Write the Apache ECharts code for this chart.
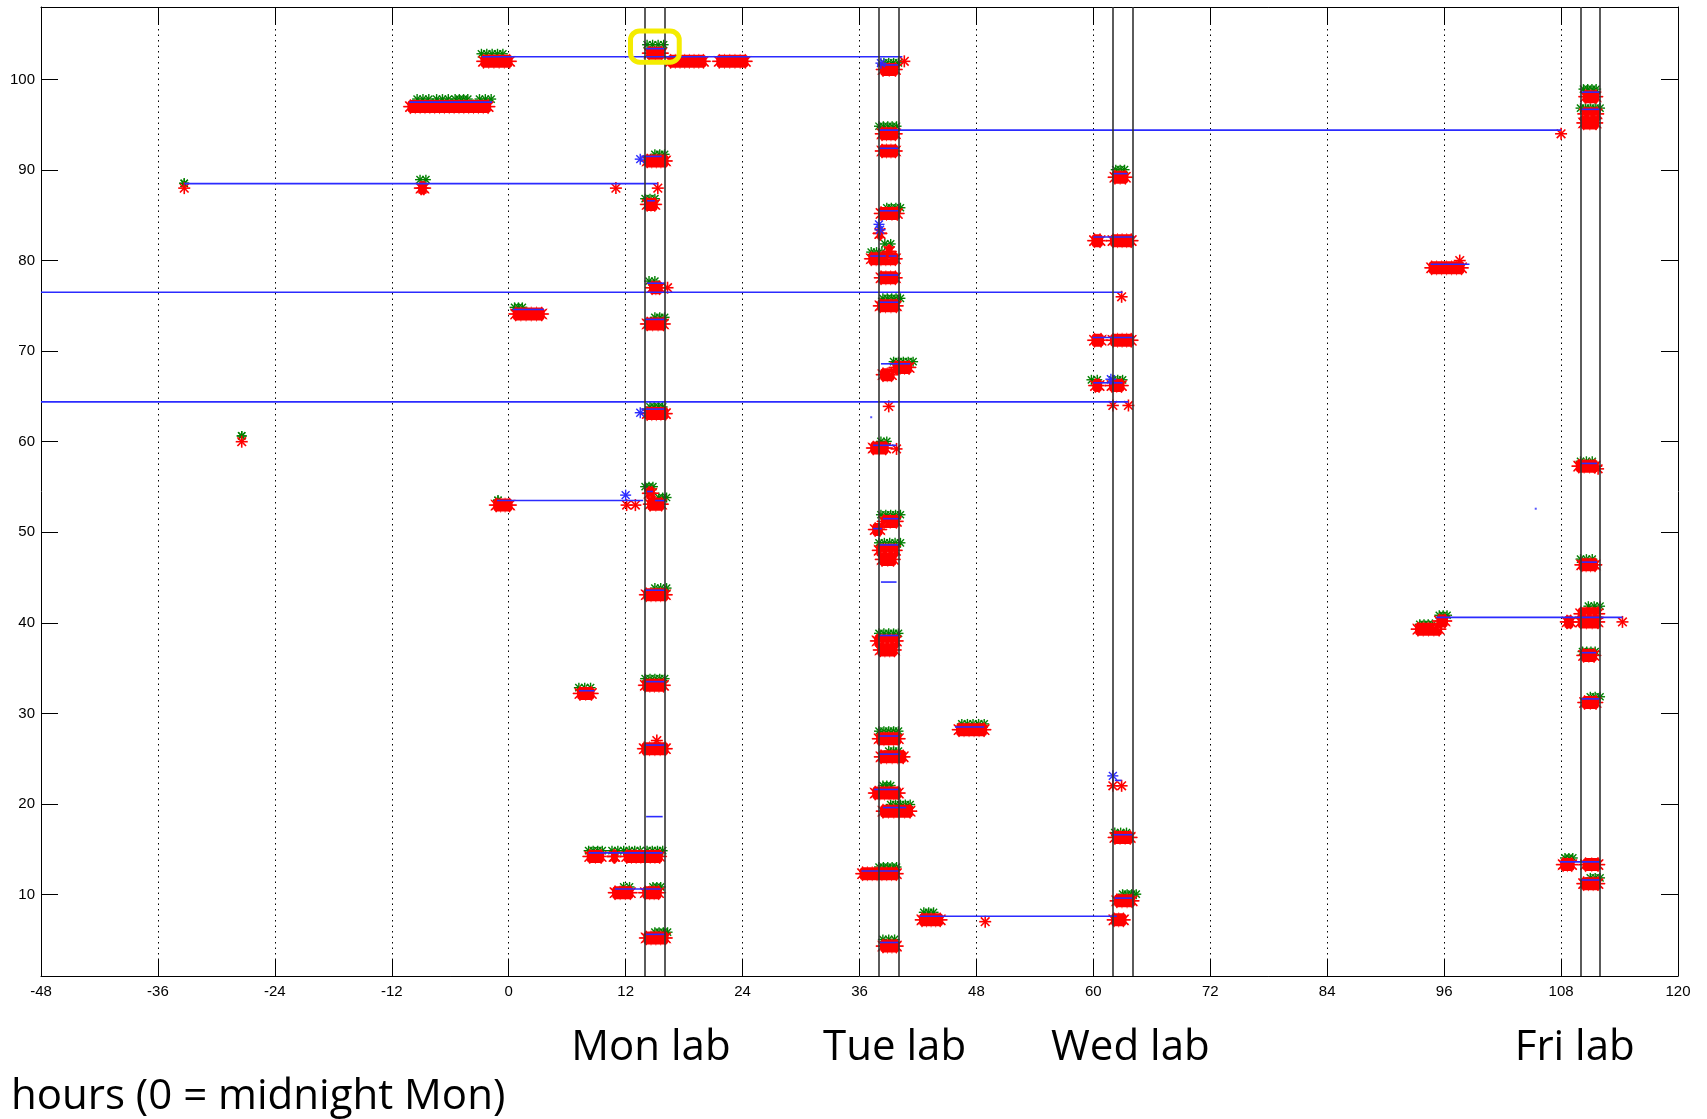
<!DOCTYPE html>
<html>
<head>
<meta charset="utf-8">
<script src="https://cdn.jsdelivr.net/npm/echarts@6/dist/echarts.min.js"></script>
<style>
html, body { margin: 0; padding: 0; background: #fff; }
#chart { width: 1707px; height: 1119px; }
</style>
</head>
<body>
<div id="chart"></div>
<script>
// axes
const hourMin = -48, hourMax = 120, hourStep = 12;
const rowMin = 1, rowMax = 108;
const rowTicks = [10, 20, 30, 40, 50, 60, 70, 80, 90, 100];

// lab sessions (hours) and their captions
const labHours = [14, 16, 38, 40, 62, 64, 110, 112];
const labNames = ['Mon lab', 'Tue lab', 'Wed lab', 'Fri lab'];
const labNameHours = [14.6, 39.6, 63.8, 109.4];

// highlighted cluster [hourFrom, hourTo, rowFrom, rowTo]
const highlightBox = [12.5, 17.5, 101.9, 105.35];

// red clusters [hourFrom, hourTo, row]
const redBlobs = [
    [-3.1, 0.6, 102], [-10.6, -1.6, 97], [-9.5, -8.2, 88], [0.2, 3.9, 74.1],
    [-1.8, 0.6, 53], [6.8, 9.0, 32.2],
    [7.8, 10.0, 14.2], [10.3, 11.4, 14.2], [11.6, 16.0, 14.2],
    [10.4, 13.0, 10.2], [13.5, 15.9, 10.2],
    // Mon lab
    [13.9, 16.2, 102.9], [16.1, 20.5, 102], [21.1, 24.8, 102],
    [13.7, 16.6, 91], [13.7, 15.5, 86.2], [14.2, 16.0, 77], [13.7, 16.4, 73],
    [13.7, 16.6, 63.1], [13.9, 15.2, 54.3], [14.0, 16.2, 53.1], [13.6, 16.6, 43.1],
    [13.5, 16.4, 33.1], [13.4, 16.6, 26.1], [13.6, 16.6, 5.2],
    // Tue lab
    [37.9, 40.2, 101.1], [37.8, 40.2, 94], [37.8, 40.2, 92.1], [37.7, 40.4, 85.2],
    [37.6, 38.6, 83], [36.7, 40.2, 80.2], [38.5, 39.6, 81], [37.7, 40.2, 78.1],
    [37.6, 40.3, 75], [37.9, 39.8, 67.4], [39.2, 41.6, 68.2], [36.9, 39.2, 59.3],
    [38.0, 40.3, 51.2], [37.1, 38.6, 50.3], [37.5, 40.2, 48], [37.8, 40.0, 47],
    [37.3, 40.3, 38], [37.6, 40.1, 37], [37.5, 40.5, 27.2], [37.7, 41.0, 25.2],
    [37.1, 40.5, 21.2], [37.9, 41.7, 19.2], [35.8, 40.3, 12.3], [41.9, 44.8, 7.2],
    [37.9, 40.3, 4.3], [45.7, 49.3, 28.2],
    // Wed lab
    [61.7, 63.8, 89.2], [59.6, 61.2, 82.2], [61.5, 64.4, 82.2],
    [59.6, 61.3, 71.2], [61.5, 64.4, 71.2], [59.7, 61.1, 66.2], [61.4, 63.4, 66.2],
    [61.7, 64.3, 16.3], [61.9, 64.5, 9.3], [61.6, 63.6, 7.2],
    // Fri lab and Thu
    [110.0, 112.1, 98.1], [109.9, 112.2, 96.2], [109.8, 112.1, 95.2],
    [94.2, 98.3, 79.2], [109.3, 112.0, 57.3], [109.6, 112.0, 46.4],
    [109.5, 112.3, 41], [109.5, 112.3, 40.1], [108.1, 109.5, 40.1],
    [92.8, 96.0, 39.3], [95.0, 96.6, 40.2], [109.8, 111.9, 36.4],
    [109.9, 112.1, 31.2], [107.7, 109.6, 13.3], [110.0, 112.3, 13.3],
    [109.8, 112.3, 11.2]
];

// green marks on top of clusters [hourFrom, hourTo, row]
const greenMarks = [
    [-2.8, -0.6, 103], [-9.4, -8.2, 98], [-7.4, -6.2, 98], [-5.5, -4.2, 98], [-3.0, -1.8, 98],
    [-33.3, -33.3, 88.7], [-9.1, -8.5, 89.1], [0.6, 1.4, 75], [-1.1, -1.1, 53.7],
    [7.2, 8.4, 33], [8.2, 9.6, 15], [10.6, 11.2, 15], [11.8, 13.5, 15], [14.2, 15.8, 15],
    [11.8, 12.4, 11], [14.8, 15.6, 11], [-27.4, -27.4, 60.8],
    [14.2, 15.9, 104], [15.0, 16.0, 91.9], [14.0, 15.0, 87], [14.4, 15.0, 77.9],
    [15.0, 16.0, 73.9], [14.5, 15.8, 64], [14.0, 14.8, 55.2], [15.4, 16.2, 54],
    [15.0, 16.2, 44], [14.0, 16.0, 34], [15.0, 16.3, 6],
    [38.5, 40.0, 102], [38.0, 39.8, 95], [38.8, 40.2, 86], [37.2, 38.3, 81.1],
    [38.6, 39.2, 82], [38.4, 40.2, 76], [39.5, 41.5, 69], [38.2, 38.8, 60.2],
    [38.2, 40.2, 52.1], [38.0, 40.2, 49], [38.0, 40.0, 39], [38.0, 40.0, 28.2],
    [39.0, 40.0, 26], [38.4, 39.2, 22.2], [39.2, 41.2, 20.1], [38.0, 39.8, 13.2],
    [42.6, 43.6, 8.2], [38.4, 39.6, 5.2], [46.5, 48.8, 29],
    [62.3, 63.2, 90.2], [59.8, 60.4, 67], [62.0, 63.0, 67], [62.2, 63.4, 17], [63.0, 64.4, 10.2],
    [110.3, 111.6, 99.1], [110.0, 112.0, 97], [110.0, 111.2, 58], [110.0, 111.2, 47.2],
    [110.8, 112.0, 42], [110.2, 111.5, 37], [111.0, 112.0, 32], [108.4, 109.2, 14.2],
    [111.0, 112.0, 12], [93.5, 94.8, 40], [95.5, 96.3, 41]
];

// blue connectors [hourFrom, hourTo, row]
const blueLines = [
    [-2.75, 40.4, 102.5], [-10.2, -1.7, 97.5], [-33.3, 15.3, 88.5], [-48, 63.0, 76.5],
    [-48, 63.6, 64.4], [0.4, 3.6, 74.6], [-1.2, 13.8, 53.5], [7.2, 8.8, 32.5],
    [8.2, 15.8, 14.6], [10.9, 15.6, 10.6],
    [14.1, 16.0, 103.4], [13.6, 15.7, 91.5], [14.2, 15.0, 86.6], [14.2, 16.0, 77.5],
    [14.0, 16.0, 73.5], [13.6, 16.0, 63.6], [14.2, 14.8, 54.5], [15.0, 16.0, 53.5],
    [14.0, 16.0, 43.6], [14.1, 16.0, 33.5], [14.0, 16.0, 26.5], [14.1, 15.8, 18.6],
    [14.1, 16.0, 5.6],
    [37.8, 40.0, 101.6], [38.0, 108.0, 94.4], [38.0, 40.0, 92.4], [38.0, 40.0, 85.5],
    [37.1, 38.7, 80.5], [39.0, 39.8, 80.5], [38.0, 40.0, 78.4], [38.0, 40.0, 75.4],
    [38.2, 41.2, 68.6], [37.4, 39.8, 59.6], [38.4, 40.1, 51.5], [37.4, 38.3, 50.4],
    [38.0, 40.0, 48.6], [38.2, 39.8, 44.5], [38.0, 40.0, 38.6], [38.0, 40.0, 27.5],
    [38.0, 40.2, 25.5], [37.5, 40.0, 21.6], [38.4, 40.8, 19.6], [36.2, 40.0, 12.6],
    [42.2, 62.4, 7.6], [38.1, 40.0, 4.7], [45.8, 48.8, 28.5],
    [62.0, 63.5, 89.6], [60.0, 64.2, 82.6], [59.9, 64.2, 71.5], [60.0, 63.0, 66.5],
    [62.2, 62.9, 22.6], [62.0, 64.0, 16.6], [62.2, 64.0, 9.6],
    [110.0, 112.0, 98.6], [110.0, 112.0, 96.7], [94.6, 98.6, 79.6], [110.0, 111.7, 57.6],
    [110.0, 111.7, 46.7], [95.2, 114.3, 40.6], [110.0, 111.6, 36.7], [110.0, 112.0, 31.6],
    [107.9, 112.0, 13.6], [110.0, 112.0, 11.6]
];

// single markers [hour, row]
const redStars = [
    [-33.3, 88], [-27.4, 60], [11.0, 88], [15.3, 88], [12.1, 53], [13.0, 53],
    [16.3, 77], [15.2, 27], [40.6, 102], [39.0, 63.9], [39.8, 59.2], [48.9, 7.0],
    [62.9, 76], [62.0, 64], [63.6, 64], [62.0, 22], [62.9, 22], [108.0, 94],
    [97.6, 80], [111.8, 57], [114.3, 40.1]
];
const blueStars = [
    [12.0, 54.1], [38.0, 84.0], [38.1, 83.4], [62.0, 23.1], [61.8, 66.9],
    [38.2, 101.8], [13.5, 91.2], [13.5, 63.2]
];
const blueDots = [[37.2, 62.7], [105.4, 52.6]];

const RED = '#ff0000', GREEN = '#008000', BLUE = '#2b2bff';

// asterisk marker made of four strokes
function star(cx, cy, r, color, w) {
    const d = r * 0.72;
    const st = {stroke: color, lineWidth: w};
    return [
        {type: 'line', shape: {x1: cx - r, y1: cy, x2: cx + r, y2: cy}, style: st},
        {type: 'line', shape: {x1: cx, y1: cy - r, x2: cx, y2: cy + r}, style: st},
        {type: 'line', shape: {x1: cx - d, y1: cy - d, x2: cx + d, y2: cy + d}, style: st},
        {type: 'line', shape: {x1: cx - d, y1: cy + d, x2: cx + d, y2: cy - d}, style: st}
    ];
}

function renderBlob(params, api) {
    const p0 = api.coord([api.value(0), api.value(2)]);
    const p1 = api.coord([api.value(1), api.value(2)]);
    const cy = p0[1];
    let a = p0[0] + 5, b = p1[0] - 5;
    if (b < a) { a = b = (p0[0] + p1[0]) / 2; }
    let children = [];
    // fuzzy fringe of overlapping asterisks
    const n = Math.max(1, Math.round((b - a) / 5));
    for (let i = 0; i <= n; i++) {
        children = children.concat(star(a + (b - a) * i / n, cy, 7.5, '#ff5050', 1));
    }
    children = children.concat(star(a, cy, 7, RED, 1.6), star(b, cy, 7, RED, 1.6));
    children.push({type: 'rect', shape: {x: a - 3, y: cy - 6.5, width: b - a + 6, height: 13, r: 4}, style: {fill: RED}});
    return {type: 'group', children: children};
}

function renderGreen(params, api) {
    const p0 = api.coord([api.value(0), api.value(2)]);
    const p1 = api.coord([api.value(1), api.value(2)]);
    let children = [];
    const n = Math.max(1, Math.round((p1[0] - p0[0]) / 5));
    for (let i = 0; i <= n; i++) {
        const x = p0[0] + (p1[0] - p0[0]) * (n ? i / n : 0);
        children = children.concat(star(x, p0[1] + 1.5, 5, GREEN, 1.4));
    }
    return {type: 'group', children: children};
}

function renderBlue(params, api) {
    const p0 = api.coord([api.value(0), api.value(2)]);
    const p1 = api.coord([api.value(1), api.value(2)]);
    return {type: 'line', shape: {x1: p0[0], y1: p0[1], x2: p1[0], y2: p1[1]}, style: {stroke: BLUE, lineWidth: 1.6}};
}

function starRenderer(color, r, w) {
    return function (params, api) {
        const p = api.coord([api.value(0), api.value(1)]);
        return {type: 'group', children: star(p[0], p[1], r, color, w)};
    };
}

const chart = echarts.init(document.getElementById('chart'));

const tickFont = {color: '#000', fontFamily: 'Liberation Sans', fontSize: 15};

const option = {
    backgroundColor: '#fff',
    animation: false,
    grid: {left: 41, right: 29, top: 7, bottom: 143},
    xAxis: [
        {
            type: 'value', min: hourMin, max: hourMax, interval: hourStep,
            axisLine: {show: true, lineStyle: {color: '#000', width: 1}},
            axisTick: {show: true, inside: true, length: 17, lineStyle: {color: '#000'}},
            axisLabel: Object.assign({margin: 8}, tickFont),
            splitLine: {show: true, showMinLine: false, showMaxLine: false, lineStyle: {color: '#000', type: [1.5, 4], width: 1}}
        },
        {
            type: 'value', position: 'top', min: hourMin, max: hourMax, interval: hourStep,
            axisLine: {show: true, onZero: false, lineStyle: {color: '#000', width: 1}},
            axisTick: {show: true, inside: true, length: 17, lineStyle: {color: '#000'}},
            axisLabel: {show: false},
            splitLine: {show: false}
        }
    ],
    yAxis: [
        {
            type: 'value', min: rowMin, max: rowMax,
            axisLine: {show: true, onZero: false, lineStyle: {color: '#000', width: 1}},
            axisTick: {show: true, inside: true, length: 17, customValues: rowTicks, lineStyle: {color: '#000'}},
            axisLabel: Object.assign({margin: 6, customValues: rowTicks}, tickFont),
            splitLine: {show: false}
        },
        {
            type: 'value', position: 'right', min: rowMin, max: rowMax,
            axisLine: {show: true, onZero: false, lineStyle: {color: '#000', width: 1}},
            axisTick: {show: true, inside: true, length: 17, customValues: rowTicks, lineStyle: {color: '#000'}},
            axisLabel: {show: false},
            splitLine: {show: false}
        }
    ],
    series: [
        {type: 'custom', name: 'green', z: 2, silent: true, data: greenMarks, renderItem: renderGreen, clip: true},
        {type: 'custom', name: 'red', z: 3, silent: true, data: redBlobs, renderItem: renderBlob, clip: true},
        {type: 'custom', name: 'redStar', z: 3, silent: true, data: redStars, renderItem: starRenderer(RED, 6, 1.6), clip: true},
        {type: 'custom', name: 'blue', z: 4, silent: true, data: blueLines, renderItem: renderBlue, clip: true},
        {type: 'custom', name: 'blueStar', z: 4, silent: true, data: blueStars, renderItem: starRenderer(BLUE, 5.5, 1.4), clip: true},
        {type: 'scatter', name: 'blueDot', z: 4, silent: true, data: blueDots, symbol: 'rect', symbolSize: 2, itemStyle: {color: BLUE}},
        {
            type: 'line', name: 'labs', z: 5, data: [], silent: true,
            markLine: {
                silent: true, symbol: ['none', 'none'], animation: false,
                label: {show: false},
                lineStyle: {color: '#333', type: 'solid', width: 1.6},
                data: labHours.map(h => ({xAxis: h}))
            }
        },
        {
            type: 'custom', name: 'box', z: 6, silent: true, data: [highlightBox],
            renderItem: function (params, api) {
                const p0 = api.coord([api.value(0), api.value(3)]);
                const p1 = api.coord([api.value(1), api.value(2)]);
                return {type: 'rect', shape: {x: p0[0], y: p0[1], width: p1[0] - p0[0], height: p1[1] - p0[1], r: 9},
                    style: {fill: 'none', stroke: '#f4ec00', lineWidth: 5}};
            }
        }
    ]
};

chart.setOption(option);

const labelFont = {fontFamily: '"Open Sans", "Noto Sans", sans-serif', fontSize: 42, fill: '#000'};
const graphics = labNames.map((name, i) => ({
    type: 'text',
    x: chart.convertToPixel({xAxisIndex: 0}, labNameHours[i]),
    y: 1048,
    style: Object.assign({text: name, align: 'center', verticalAlign: 'middle'}, labelFont)
}));
graphics.push({
    type: 'text', x: 11, y: 1097,
    style: Object.assign({text: 'hours (0 = midnight Mon)', align: 'left', verticalAlign: 'middle'}, labelFont)
});
chart.setOption({graphic: graphics});
</script>
</body>
</html>
